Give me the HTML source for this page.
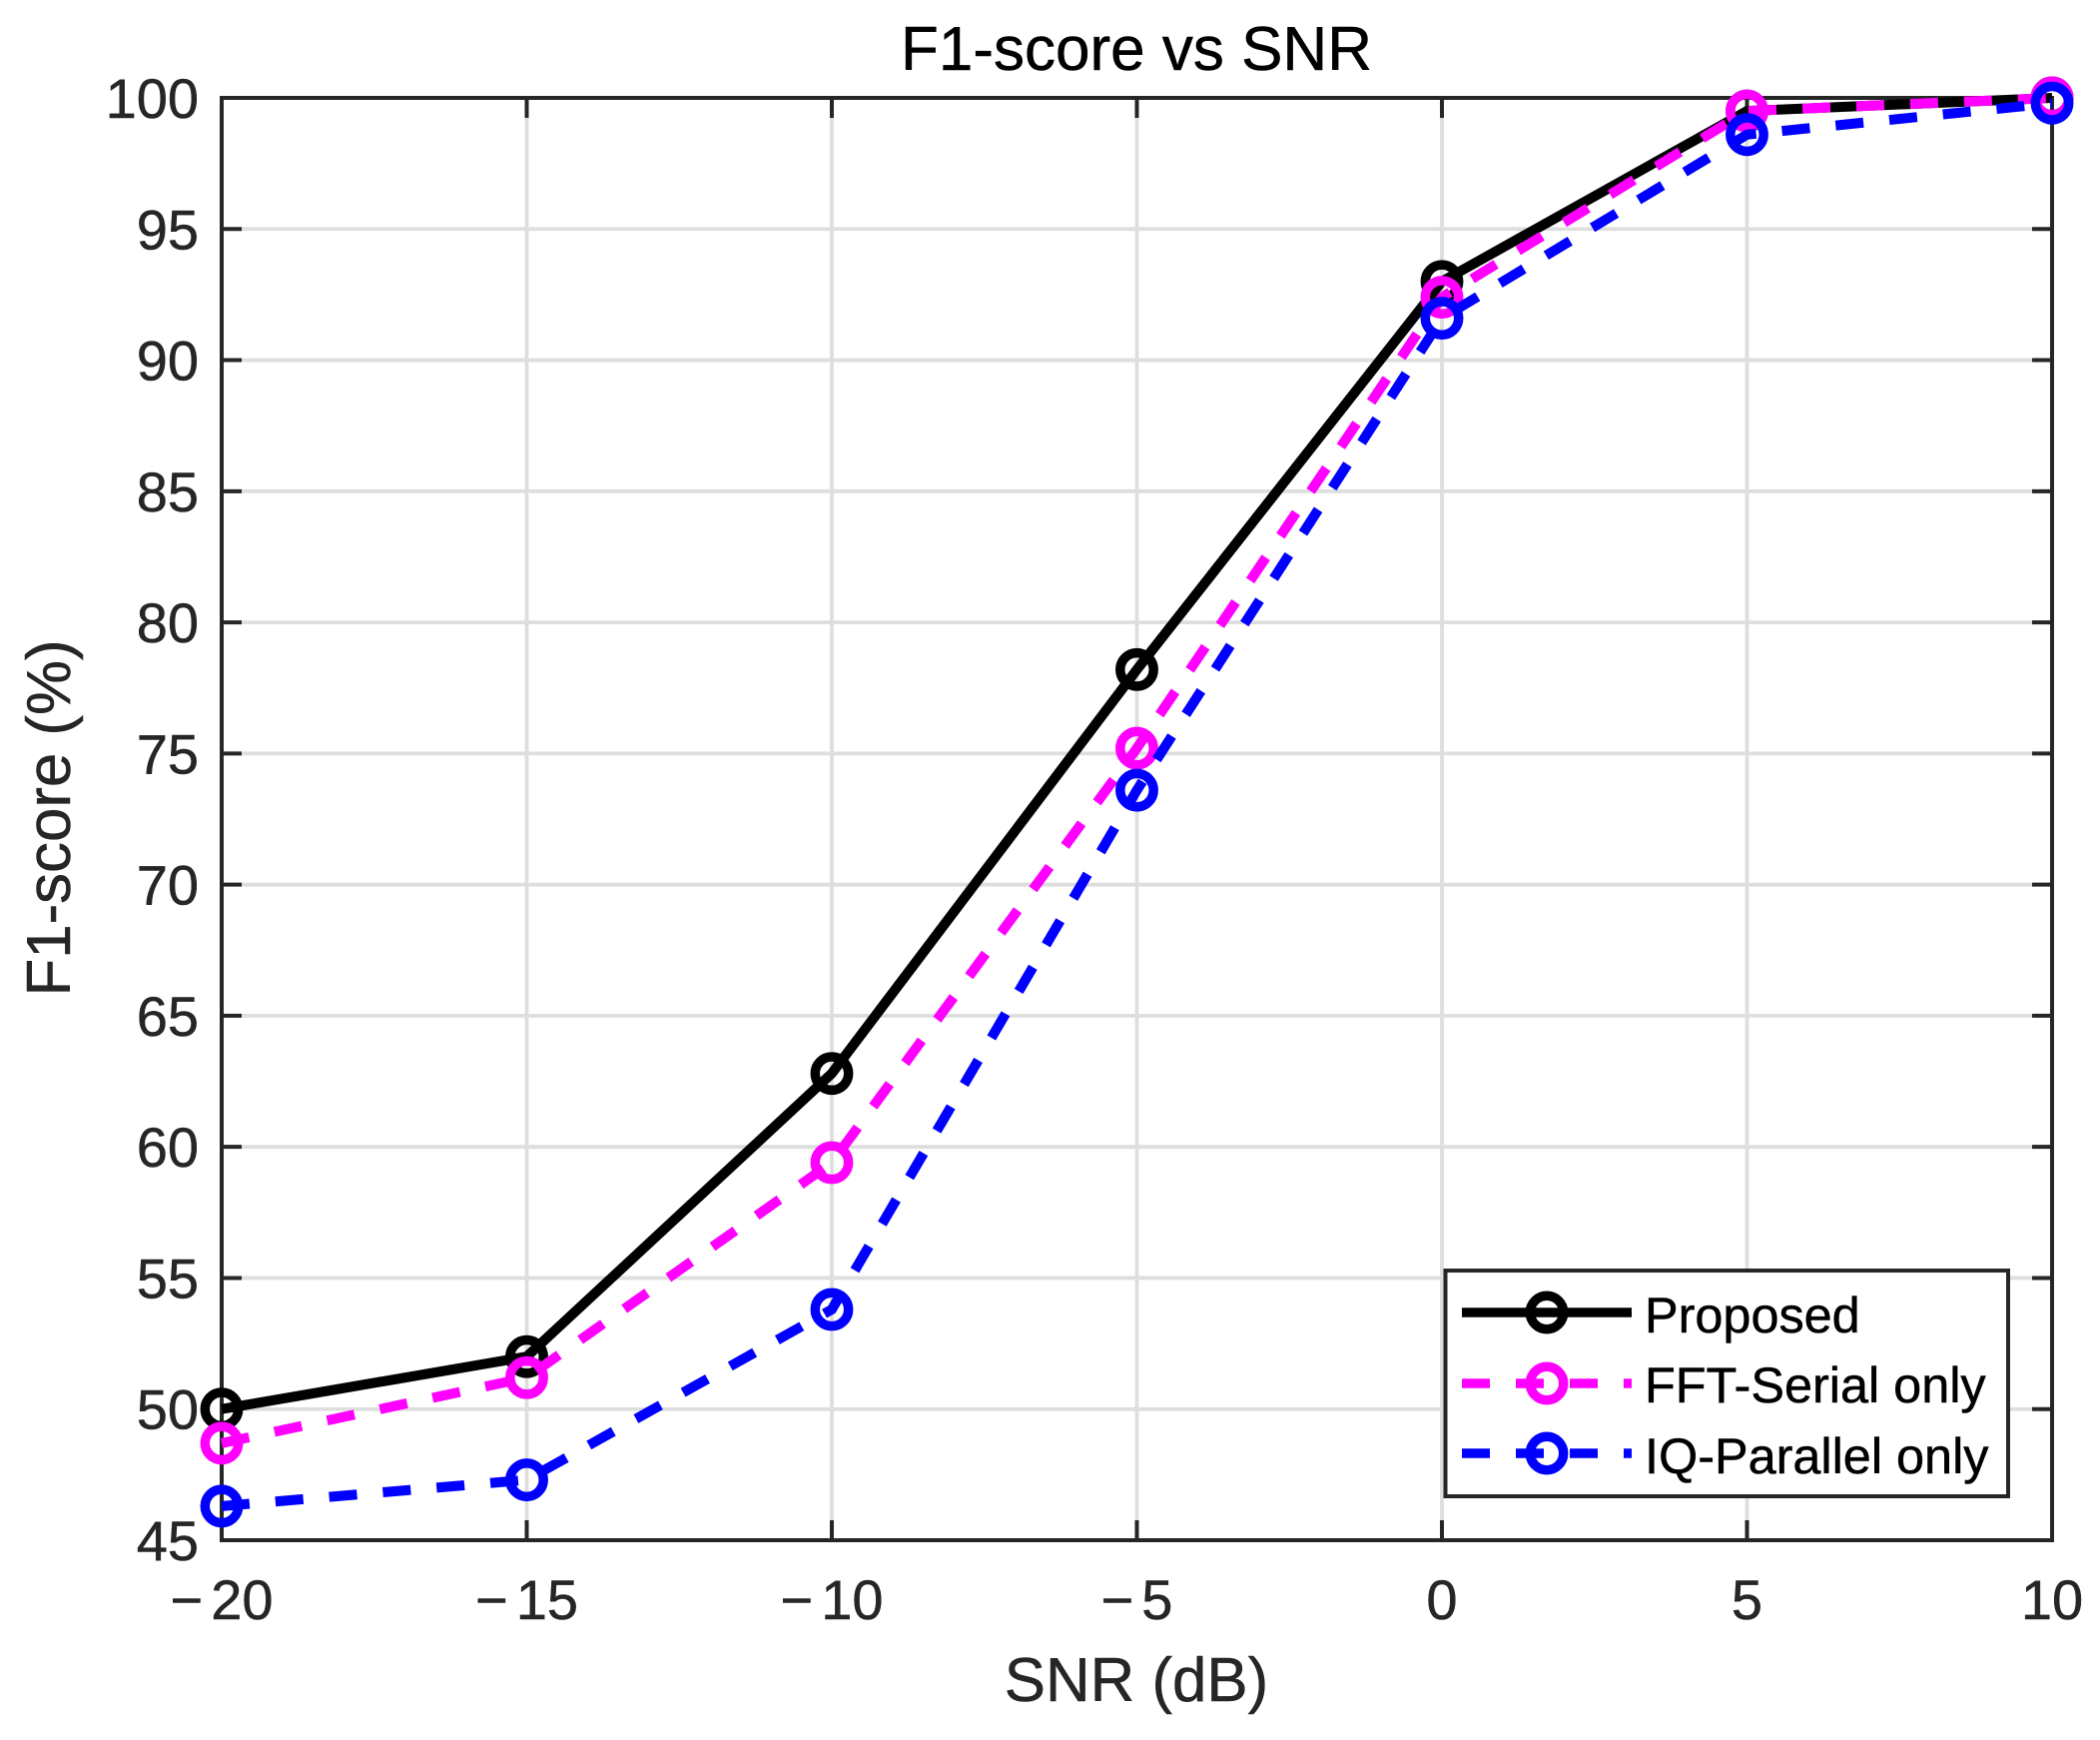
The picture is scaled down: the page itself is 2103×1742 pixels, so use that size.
<!DOCTYPE html>
<html lang="en">
<head>
<meta charset="utf-8">
<title>F1-score vs SNR</title>
<style>
  html, body { margin: 0; padding: 0; background: #fff; }
  svg { display: block; }
  text { font-family: "Liberation Sans", Arial, sans-serif; white-space: pre; }
</style>
</head>
<body>
<svg id="chart" xmlns="http://www.w3.org/2000/svg" width="2103" height="1742" viewBox="0 0 2103 1742">
  <rect x="0" y="0" width="2103" height="1742" fill="#fff"/>
  <g id="grid"></g>
  <rect x="222" y="98" width="1833" height="1444" fill="none" stroke="#262626" stroke-width="4"/>
  <g id="ticks"></g>
  <g id="series"></g>
  <text x="1138" y="70" font-size="62" text-anchor="middle" fill="#000" stroke="#000" stroke-width="0.5">F1-score vs SNR</text>
  <text x="1138" y="1703" font-size="61.8" text-anchor="middle" fill="#262626" stroke="#262626" stroke-width="0.5">SNR (dB)</text>
  <text transform="translate(70 819) rotate(-90)" font-size="61.8" text-anchor="middle" fill="#262626" stroke="#262626" stroke-width="0.5">F1-score (%)</text>
  <g>
    <rect x="1447.5" y="1272" width="563.5" height="226" fill="#fff" stroke="#262626" stroke-width="4"/>
    <g>
      <line x1="1464" y1="1314" x2="1634" y2="1314" stroke="#000" stroke-width="9.5"/>
      <circle cx="1549" cy="1314" r="16.7" fill="none" stroke="#000" stroke-width="9.5"/>
      <text x="1647" y="1334" font-size="50.4" fill="#000" stroke="#000" stroke-width="0.5">Proposed</text>
    </g>
    <g>
      <line x1="1464" y1="1385" x2="1634" y2="1385" stroke="#f0f" stroke-width="9.5" stroke-dasharray="28 26"/>
      <circle cx="1549" cy="1385" r="16.7" fill="none" stroke="#f0f" stroke-width="9.5"/>
      <text x="1647" y="1404" font-size="50.4" fill="#000" stroke="#000" stroke-width="0.5">FFT-Serial only</text>
    </g>
    <g>
      <line x1="1464" y1="1455" x2="1634" y2="1455" stroke="#00f" stroke-width="9.5" stroke-dasharray="28 26"/>
      <circle cx="1549" cy="1455" r="16.7" fill="none" stroke="#00f" stroke-width="9.5"/>
      <text x="1647" y="1475" font-size="50.4" fill="#000" stroke="#000" stroke-width="0.5">IQ-Parallel only</text>
    </g>
  </g>
</svg>
<script>
const snrValues = [-20, -15, -10, -5, 0, 5, 10];
const proposedScores = [50, 52, 62.8, 78.2, 93, 99.5, 100];
const fftSerialScores = [48.7, 51.2, 59.4, 75.2, 92.4, 99.5, 100];
const iqParallelScores = [46.3, 47.3, 53.8, 73.6, 91.6, 98.6, 99.8];
const xTickValues = [-20, -15, -10, -5, 0, 5, 10];
const xTickLabels = ['\u221220', '\u221215', '\u221210', '\u22125', '0', '5', '10'];
const yTickValues = [45, 50, 55, 60, 65, 70, 75, 80, 85, 90, 95, 100];
const yTickLabels = ['45', '50', '55', '60', '65', '70', '75', '80', '85', '90', '95', '100'];

const NS = 'http://www.w3.org/2000/svg';
const plotLeft = 222, plotRight = 2055, plotTop = 98, plotBottom = 1542;
const xMin = -20, xMax = 10, yMin = 45, yMax = 100;
function xScale(v) { return plotLeft + (v - xMin) / (xMax - xMin) * (plotRight - plotLeft); }
function yScale(v) { return plotBottom - (v - yMin) / (yMax - yMin) * (plotBottom - plotTop); }
function make(tag, attrs, parent) {
  const el = document.createElementNS(NS, tag);
  for (const k in attrs) el.setAttribute(k, attrs[k]);
  parent.appendChild(el);
  return el;
}
const gridGroup = document.getElementById('grid');
const tickGroup = document.getElementById('ticks');
const seriesGroup = document.getElementById('series');
const tickLen = 20, gridColor = '#dedede', axisColor = '#262626';

xTickValues.forEach(function (v, i) {
  const x = xScale(v);
  const g = make('line', { x1: x, x2: x, y1: plotTop, y2: plotBottom, stroke: gridColor, 'stroke-width': 3.8 }, gridGroup);
  
  
  const t1 = make('line', { x1: x, x2: x, y1: plotBottom, y2: plotBottom - tickLen, stroke: axisColor, 'stroke-width': 4 }, tickGroup);
  
  
  const t2 = make('line', { x1: x, x2: x, y1: plotTop, y2: plotTop + tickLen, stroke: axisColor, 'stroke-width': 4 }, tickGroup);
  
  
  const label = make('text', { x: x, y: 1621, 'font-size': 56, 'text-anchor': 'middle', fill: axisColor, stroke: axisColor, 'stroke-width': 0.5 }, tickGroup);
  
  
  const text = xTickLabels[i];
  if (text.charAt(0) === '\u2212') {
    label.textContent = '\u2212';
    const digits = make('tspan', { dx: 8 }, label);
    digits.textContent = text.slice(1);
  } else {
    label.textContent = text;
  }
});

yTickValues.forEach(function (v, i) {
  const y = yScale(v);
  const g = make('line', { x1: plotLeft, x2: plotRight, y1: y, y2: y, stroke: gridColor, 'stroke-width': 3.8 }, gridGroup);
  
  
  const t1 = make('line', { x1: plotLeft, x2: plotLeft + tickLen, y1: y, y2: y, stroke: axisColor, 'stroke-width': 4 }, tickGroup);
  
  
  const t2 = make('line', { x1: plotRight, x2: plotRight - tickLen, y1: y, y2: y, stroke: axisColor, 'stroke-width': 4 }, tickGroup);
  
  
  const label = make('text', { x: 199, y: y + 20, 'font-size': 56, 'text-anchor': 'end', fill: axisColor, stroke: axisColor, 'stroke-width': 0.5 }, tickGroup);
  
  
  label.textContent = yTickLabels[i];
});

function drawSeries(values, color, dash, lineName, markerName) {
  const pts = values.map(function (v, i) { return xScale(snrValues[i]) + ',' + yScale(v); }).join(' ');
  const attrs = { points: pts, fill: 'none', stroke: color, 'stroke-width': 10, 'stroke-linejoin': 'miter' };
  if (dash) attrs['stroke-dasharray'] = dash;
  const line = make('polyline', attrs, seriesGroup);
  
  
  values.forEach(function (v, i) {
    const c = make('circle', { cx: xScale(snrValues[i]), cy: yScale(v), r: 16.7, fill: 'none', stroke: color, 'stroke-width': 9.5 }, seriesGroup);
    
    
  });
}
drawSeries(proposedScores, '#000', null, 'series-line-proposed', 'point-proposed');
drawSeries(fftSerialScores, '#f0f', '28 26', 'series-line-fft-serial', 'point-fft-serial');
drawSeries(iqParallelScores, '#00f', '28 26', 'series-line-iq-parallel', 'point-iq-parallel');
</script>
</body>
</html>
